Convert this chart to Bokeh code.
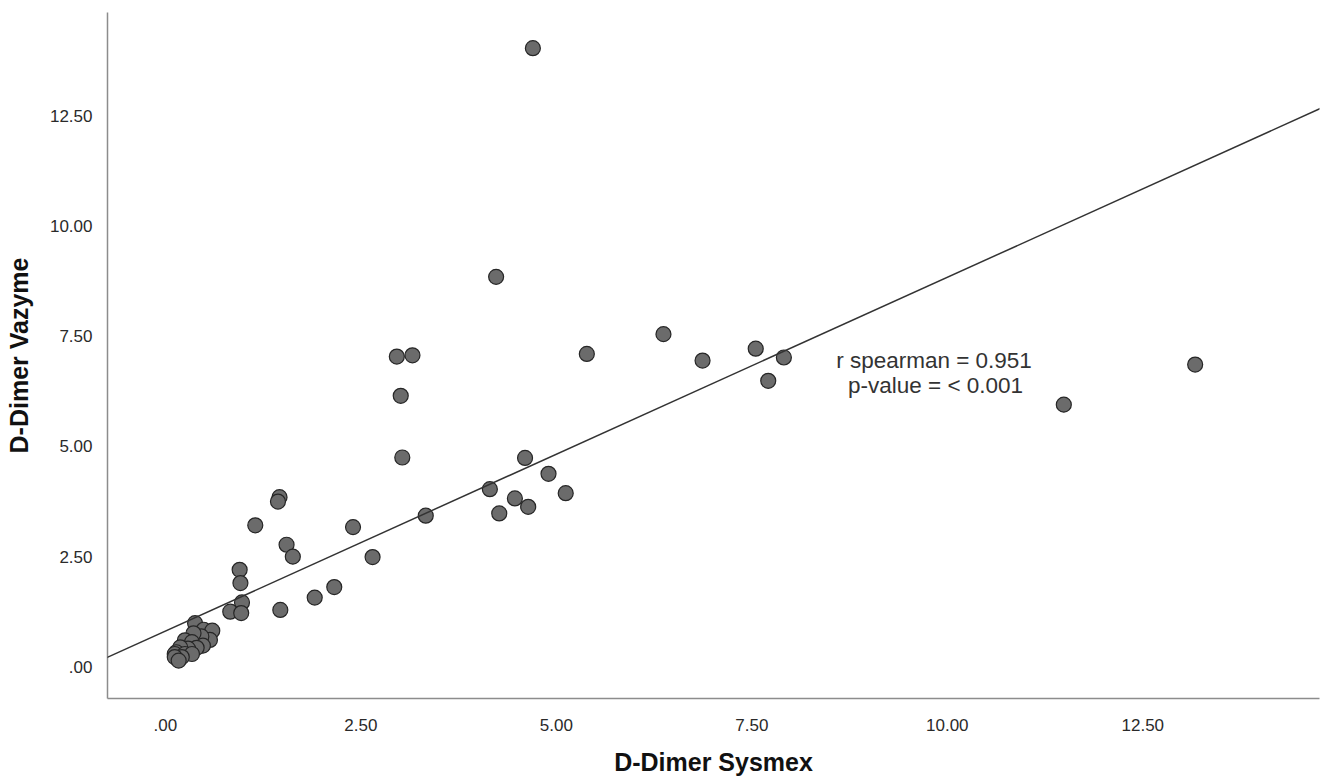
from bokeh.plotting import figure
from bokeh.models import Range1d, FixedTicker, Slope, ColumnDataSource
from bokeh.core.properties import value
from bokeh.embed import file_html
from bokeh.resources import INLINE

# ---- data ----
sysmex = [4.70, 4.23, 6.37, 5.39, 6.87, 7.55, 7.91, 7.71, 13.17, 11.49,
          2.96, 3.16, 3.01, 3.03, 4.60, 4.90, 4.15, 5.12, 4.47, 4.64,
          4.27, 3.33, 2.40, 1.46, 1.44, 1.15, 1.55, 1.63, 2.65, 0.95,
          0.96, 2.16, 1.91, 0.98, 0.83, 0.97, 1.47,
          0.38, 0.49, 0.60, 0.57, 0.46, 0.36, 0.25, 0.34, 0.48, 0.40,
          0.29, 0.19, 0.14, 0.12, 0.25, 0.34, 0.21, 0.12, 0.17]
vazyme = [14.04, 8.85, 7.55, 7.10, 6.95, 7.22, 7.02, 6.49, 6.86, 5.95,
          7.04, 7.07, 6.15, 4.75, 4.74, 4.38, 4.03, 3.94, 3.82, 3.63,
          3.48, 3.43, 3.17, 3.85, 3.75, 3.21, 2.77, 2.50, 2.49, 2.20,
          1.90, 1.81, 1.57, 1.46, 1.25, 1.22, 1.29,
          0.99, 0.84, 0.82, 0.61, 0.69, 0.76, 0.60, 0.56, 0.48, 0.43,
          0.41, 0.44, 0.33, 0.29, 0.29, 0.29, 0.22, 0.22, 0.14]

fit_slope = 0.803
fit_intercept = 0.81

tick_values = [0.0, 2.5, 5.0, 7.5, 10.0, 12.5]
tick_labels = [".00", "2.50", "5.00", "7.50", "10.00", "12.50"]

annot_text = ["r spearman = 0.951", "p-value = < 0.001"]
annot_x = [9.83, 9.85]
annot_y = [6.95, 6.38]

x_label = "D-Dimer Sysmex"
y_label = "D-Dimer Vazyme"

# ---- figure ----
FONT = "Liberation Sans"
p = figure(width=1334, height=778, output_backend="svg", toolbar_location=None,
           x_range=Range1d(-0.74, 14.76), y_range=Range1d(-0.72, 14.85),
           min_border_left=107, min_border_right=15, min_border_top=12,
           min_border_bottom=80)
p.background_fill_color = "white"
p.border_fill_color = "white"
p.outline_line_color = None
p.xgrid.visible = False
p.ygrid.visible = False

for ax in (p.xaxis[0], p.yaxis[0]):
    ax.ticker = FixedTicker(ticks=tick_values)
    ax.major_label_overrides = {v: l for v, l in zip(tick_values, tick_labels)}
    ax.major_tick_line_color = None
    ax.minor_tick_line_color = None
    ax.axis_line_color = "#8c8c8c"
    ax.axis_line_width = 1.5
    ax.major_label_text_font = FONT
    ax.major_label_text_font_size = "17px"
    ax.major_label_text_color = "#2a2a2a"
    ax.axis_label_text_font = FONT
    ax.axis_label_text_font_size = "25px"
    ax.axis_label_text_font_style = "bold"
    ax.axis_label_text_color = "#111111"

p.xaxis[0].axis_label = x_label
p.yaxis[0].axis_label = y_label
p.xaxis[0].major_label_standoff = 14
p.xaxis[0].axis_label_standoff = 14
p.yaxis[0].major_label_standoff = 9
p.yaxis[0].axis_label_standoff = 14

src = ColumnDataSource(dict(x=sysmex, y=vazyme))
p.scatter("x", "y", source=src, size=15, fill_color="#6b6b6b",
          line_color="#262626", line_width=1.2)

p.add_layout(Slope(gradient=fit_slope, y_intercept=fit_intercept,
                   line_color="#333333", line_width=1.5))

p.text(x=annot_x, y=annot_y, text=annot_text, text_font=value(FONT),
       text_font_size="22.5px", text_color="#333333", text_align="center",
       text_baseline="middle")

open("out.html", "w").write(file_html(p, INLINE))
